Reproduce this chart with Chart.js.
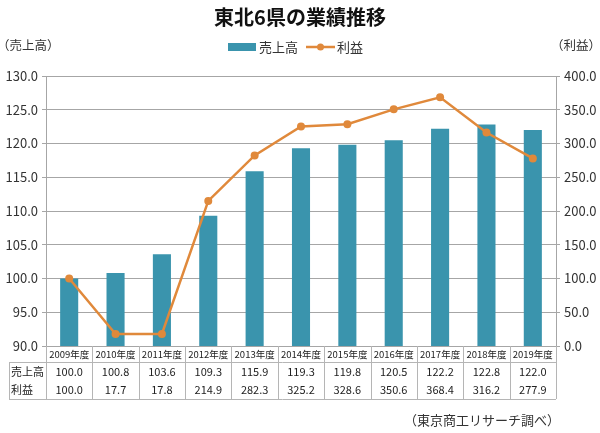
<!DOCTYPE html>
<html><head><meta charset="utf-8">
<script src="https://cdn.jsdelivr.net/npm/chart.js@4/dist/chart.umd.min.js"></script>
<style>html,body{margin:0;padding:0;background:#fff;}#wrap{width:600px;height:433px;}</style>
</head><body><div id="wrap"><canvas id="c" width="600" height="433"></canvas></div>
<script>
const categories = ['2009年度','2010年度','2011年度','2012年度','2013年度','2014年度','2015年度','2016年度','2017年度','2018年度','2019年度'];
const sales = [100.0,100.8,103.6,109.3,115.9,119.3,119.8,120.5,122.2,122.8,122.0];
const profit = [100.0,17.7,17.8,214.9,282.3,325.2,328.6,350.6,368.4,316.2,277.9];
const salesLabel = '売上高';
const profitLabel = '利益';
const titleText = '東北6県の業績推移';
const leftAxisTitle = '（売上高）';
const rightAxisTitle = '（利益）';
const sourceText = '（東京商工リサーチ調べ）';

const BAR = '#3A94AD';
const LINE = '#E0893B';
const FONT = '"Noto Sans CJK JP","Noto Sans",sans-serif';

const extras = {
  id: 'extras',
  afterDraw(chart) {
    const ctx = chart.ctx;
    const x = chart.scales.x;
    const ca = chart.chartArea;
    ctx.save();
    // title
    ctx.fillStyle = '#111';
    ctx.font = 'bold 20px ' + FONT;
    ctx.textAlign = 'center'; ctx.textBaseline = 'middle';
    ctx.fillText(titleText, 300, 17);
    // axis titles
    ctx.font = '12.5px ' + FONT;
    ctx.fillStyle = '#333';
    ctx.textAlign = 'left';
    ctx.fillText(leftAxisTitle, -3, 45);
    ctx.textAlign = 'right';
    ctx.fillText(rightAxisTitle, 601, 45);
    // legend
    ctx.font = '13px ' + FONT;
    ctx.textAlign = 'left';
    ctx.fillStyle = BAR;
    ctx.fillRect(228, 43, 28, 8);
    ctx.fillStyle = '#333';
    ctx.fillText(salesLabel, 259, 47);
    ctx.strokeStyle = LINE; ctx.lineWidth = 2.5;
    ctx.beginPath(); ctx.moveTo(306, 47); ctx.lineTo(335, 47); ctx.stroke();
    ctx.fillStyle = LINE;
    ctx.beginPath(); ctx.arc(320.5, 47, 3.5, 0, Math.PI*2); ctx.fill();
    ctx.fillStyle = '#333';
    ctx.fillText(profitLabel, 337, 47);
    // table
    const n = categories.length;
    const step = (ca.right - ca.left) / n;
    const rowTop = ca.bottom + 16;
    const rowH = 18.5;
    const tableBottom = rowTop + rowH * 2;
    ctx.strokeStyle = '#B5B5B5'; ctx.lineWidth = 1;
    ctx.beginPath();
    ctx.moveTo(9, rowTop + 0.5); ctx.lineTo(ca.right, rowTop + 0.5);
    ctx.moveTo(9, tableBottom + 0.5); ctx.lineTo(ca.right, tableBottom + 0.5);
    ctx.moveTo(9.5, rowTop); ctx.lineTo(9.5, tableBottom);
    for (let i = 0; i <= n; i++) {
      const xx = Math.round(ca.left + i * step) + 0.5;
      ctx.moveTo(xx, ca.bottom); ctx.lineTo(xx, tableBottom);
    }
    ctx.stroke();
    ctx.fillStyle = '#222';
    ctx.textAlign = 'left';
    ctx.font = '11px ' + FONT;
    ctx.fillText(salesLabel, 11, rowTop + rowH/2 + 0.5);
    ctx.fillText(profitLabel, 11, rowTop + rowH*1.5 + 0.5);
    ctx.font = '11px ' + FONT;
    ctx.textAlign = 'center';
    for (let i = 0; i < n; i++) {
      const cx = x.getPixelForValue(i);
      ctx.fillText(sales[i].toFixed(1), cx, rowTop + rowH/2 + 0.5);
      ctx.fillText(profit[i].toFixed(1), cx, rowTop + rowH*1.5 + 0.5);
    }
    // source
    ctx.font = '13px ' + FONT;
    ctx.fillStyle = '#333';
    ctx.textAlign = 'right';
    ctx.fillText(sourceText, 560, 420);
    ctx.restore();
  }
};

new Chart(document.getElementById('c'), {
  data: {
    labels: categories,
    datasets: [
      { type: 'line', label: profitLabel, data: profit, yAxisID: 'y1', borderColor: LINE, backgroundColor: LINE,
        borderWidth: 2.5, pointRadius: 4, pointHoverRadius: 4, pointBackgroundColor: LINE, pointBorderWidth: 0, tension: 0, order: 0 },
      { type: 'bar', label: salesLabel, data: sales, yAxisID: 'y', backgroundColor: BAR, borderWidth: 0,
        barPercentage: 0.39, categoryPercentage: 1.0, order: 1 }
    ]
  },
  options: {
    responsive: false, animation: false, devicePixelRatio: 1,
    layout: { padding: { top: 76, bottom: 71, left: 0, right: 0 } },
    plugins: { legend: { display: false }, title: { display: false }, tooltip: { enabled: false } },
    scales: {
      x: {
        grid: { display: false, drawTicks: false },
        border: { display: true, color: '#A6A6A6' },
        ticks: { font: { size: 9.5, family: FONT }, color: '#222', padding: 3, maxRotation: 0, autoSkip: false },
        afterFit(s) { s.height = 16; }
      },
      y: {
        position: 'left', min: 90, max: 130,
        grid: { color: '#A6A6A6', tickLength: 4, drawTicks: true },
        border: { display: true, color: '#A6A6A6' },
        ticks: { stepSize: 5, font: { size: 13, family: FONT }, color: '#333', padding: 4, callback: v => v.toFixed(1) },
        afterFit(s) { s.width = 46; }
      },
      y1: {
        position: 'right', min: 0, max: 400,
        grid: { drawOnChartArea: false, color: '#A6A6A6', tickLength: 4, drawTicks: true },
        border: { display: true, color: '#A6A6A6' },
        ticks: { stepSize: 50, font: { size: 13, family: FONT }, color: '#333', padding: 4, callback: v => v.toFixed(1) },
        afterFit(s) { s.width = 44; }
      }
    }
  },
  plugins: [extras]
});
</script></body></html>
